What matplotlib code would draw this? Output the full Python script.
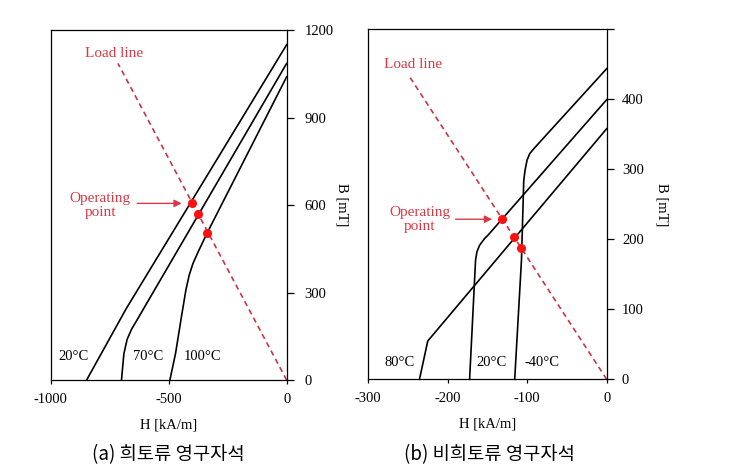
import matplotlib
matplotlib.use("Agg")
import matplotlib.pyplot as plt

plt.rcParams['font.family'] = ['Liberation Serif', 'DejaVu Serif']

# ---------------- data: (a) rare-earth magnet ----------------
a_H20 = [-848, -680, 0]
a_B20 = [0, 245, 1150]
a_H70 = [-700, -690, -676, -657, -635, 0]
a_B70 = [0, 90, 140, 175, 205, 1086]
a_H100 = [-495, -471, -446, -427, -413, -397, -375, -336, 0]
a_B100 = [0, 91, 217, 309, 360, 400, 440, 506, 1040]
a_load_H = [0, -715]
a_load_B = [0, 1086]
a_op_H = [-403, -375, -336]
a_op_B = [608, 568, 506]
a_xticks = [-1000, -500, 0]
a_yticks = [0, 300, 600, 900, 1200]
a_ytick_labels = ['0', '300', '600', '900', '1200']
a_temp_labels = ['20°C', '70°C', '100°C']
a_temp_H = [-904, -587, -358]

# ---------------- data: (b) non-rare-earth magnet ----------------
b_H80 = [-235.3, -224.9, 0]
b_B80 = [0, 54.7, 358]
b_H20 = [-172.3, -164.8, -163.1, -159.7, -153.4, -149.2, 0]
b_B20 = [0, 170.2, 182.1, 191.6, 201.2, 205.9, 399.5]
b_Hm40 = [-115.6, -107.1, -104.2, -102.6, -100.1, -96.7, -90.4, 0]
b_Bm40 = [0, 170.4, 284.6, 298.7, 313, 322.5, 331, 443.8]
b_load_H = [0, -247]
b_load_B = [0, 431]
b_op_H = [-131, -116.5, -107.1]
b_op_B = [229, 203, 187]
b_xticks = [-300, -200, -100, 0]
b_yticks = [0, 100, 200, 300, 400, 500]
b_ytick_labels = ['0', '100', '200', '300', '400', '']
b_temp_labels = ['80°C', '20°C', '-40°C']
b_temp_H = [-260.6, -145, -80.7]

RED_TXT = '#d83a45'
RED_LINE = '#cc3345'
RED_PT = '#ff1010'
FS = 10.5

fig = plt.figure(figsize=(7.35, 4.71), dpi=100)
axA = fig.add_axes([0.069, 0.193, 0.321, 0.743])
axB = fig.add_axes([0.5007, 0.1947, 0.3247, 0.743])


def style(ax, xlim, ylim, xticks, yticks, ylabels, ypad, xpad):
    ax.set_xlim(*xlim)
    ax.set_ylim(*ylim)
    for s in ax.spines.values():
        s.set_linewidth(0.9)
        s.set_color('black')
    ax.yaxis.tick_right()
    ax.set_xticks(xticks)
    ax.set_xticklabels([str(t) for t in xticks])
    ax.set_yticks(yticks)
    ax.set_yticklabels(ylabels)
    ax.tick_params(axis='y', direction='out', length=5, width=0.9, pad=ypad, labelsize=FS)
    ax.tick_params(axis='x', direction='out', length=3, width=0.9, pad=xpad, labelsize=FS)
    ax.set_xlabel('H [kA/m]', fontsize=FS)
    ax.xaxis.set_label_coords(0.5, -0.11)
    ax.yaxis.set_label_position('right')
    ax.set_ylabel('B [mT]', fontsize=FS, rotation=270, va='center')
    ax.yaxis.set_label_coords(1.233, 0.5)


# ---- panel (a)
for H, B in [(a_H20, a_B20), (a_H70, a_B70), (a_H100, a_B100)]:
    axA.plot(H, B, color='black', lw=1.2, solid_joinstyle='round', clip_on=False)
axA.plot(a_load_H, a_load_B, color=RED_LINE, lw=1.2, ls=(0, (3.2, 2.4)), clip_on=False)
axA.plot(a_op_H, a_op_B, 'o', color=RED_PT, ms=5.5, zorder=5)
for t, h in zip(a_temp_labels, a_temp_H):
    axA.text(h, 81, t, ha='center', va='center', fontsize=FS)
axA.text(-732, 1121, 'Load line', color=RED_TXT, ha='center', va='center', fontsize=11)
axA.text(-791, 599, 'Operating\npoint', color=RED_TXT, ha='center', va='center',
         fontsize=11, linespacing=1.1)
axA.annotate('', xy=(-445, 606), xytext=(-633, 606),
             arrowprops=dict(arrowstyle='-|>', color=RED_TXT, lw=1.0, mutation_scale=11,
                             shrinkA=0, shrinkB=0))
style(axA, (-1000, 0), (0, 1200), a_xticks, a_yticks, a_ytick_labels, ypad=8, xpad=6)

# ---- panel (b)
for H, B in [(b_H80, b_B80), (b_H20, b_B20), (b_Hm40, b_Bm40)]:
    axB.plot(H, B, color='black', lw=1.2, solid_joinstyle='round', clip_on=False)
axB.plot(b_load_H, b_load_B, color=RED_LINE, lw=1.2, ls=(0, (3.2, 2.4)), clip_on=False)
axB.plot(b_op_H, b_op_B, 'o', color=RED_PT, ms=5.5, zorder=5)
for t, h in zip(b_temp_labels, b_temp_H):
    axB.text(h, 23.7, t, ha='center', va='center', fontsize=FS)
axB.text(-244, 450, 'Load line', color=RED_TXT, ha='center', va='center', fontsize=11)
axB.text(-235, 228.5, 'Operating\npoint', color=RED_TXT, ha='center', va='center',
         fontsize=11, linespacing=1.1)
axB.annotate('', xy=(-144, 228.7), xytext=(-190, 228.7),
             arrowprops=dict(arrowstyle='-|>', color=RED_TXT, lw=1.0, mutation_scale=11,
                             shrinkA=0, shrinkB=0))
style(axB, (-300, 0), (0, 500), b_xticks, b_yticks, b_ytick_labels, ypad=6, xpad=6)

# captions
fig.text(168 / 735, 1 - 455 / 471, '(a) 희토류 영구자석', ha='center', va='center',
         fontsize=13.5, family=['Noto Sans CJK KR', 'DejaVu Sans'])
fig.text(489 / 735, 1 - 455 / 471, '(b) 비희토류 영구자석', ha='center', va='center',
         fontsize=13.5, family=['Noto Sans CJK KR', 'DejaVu Sans'])

fig.savefig('out.png', dpi=100)
